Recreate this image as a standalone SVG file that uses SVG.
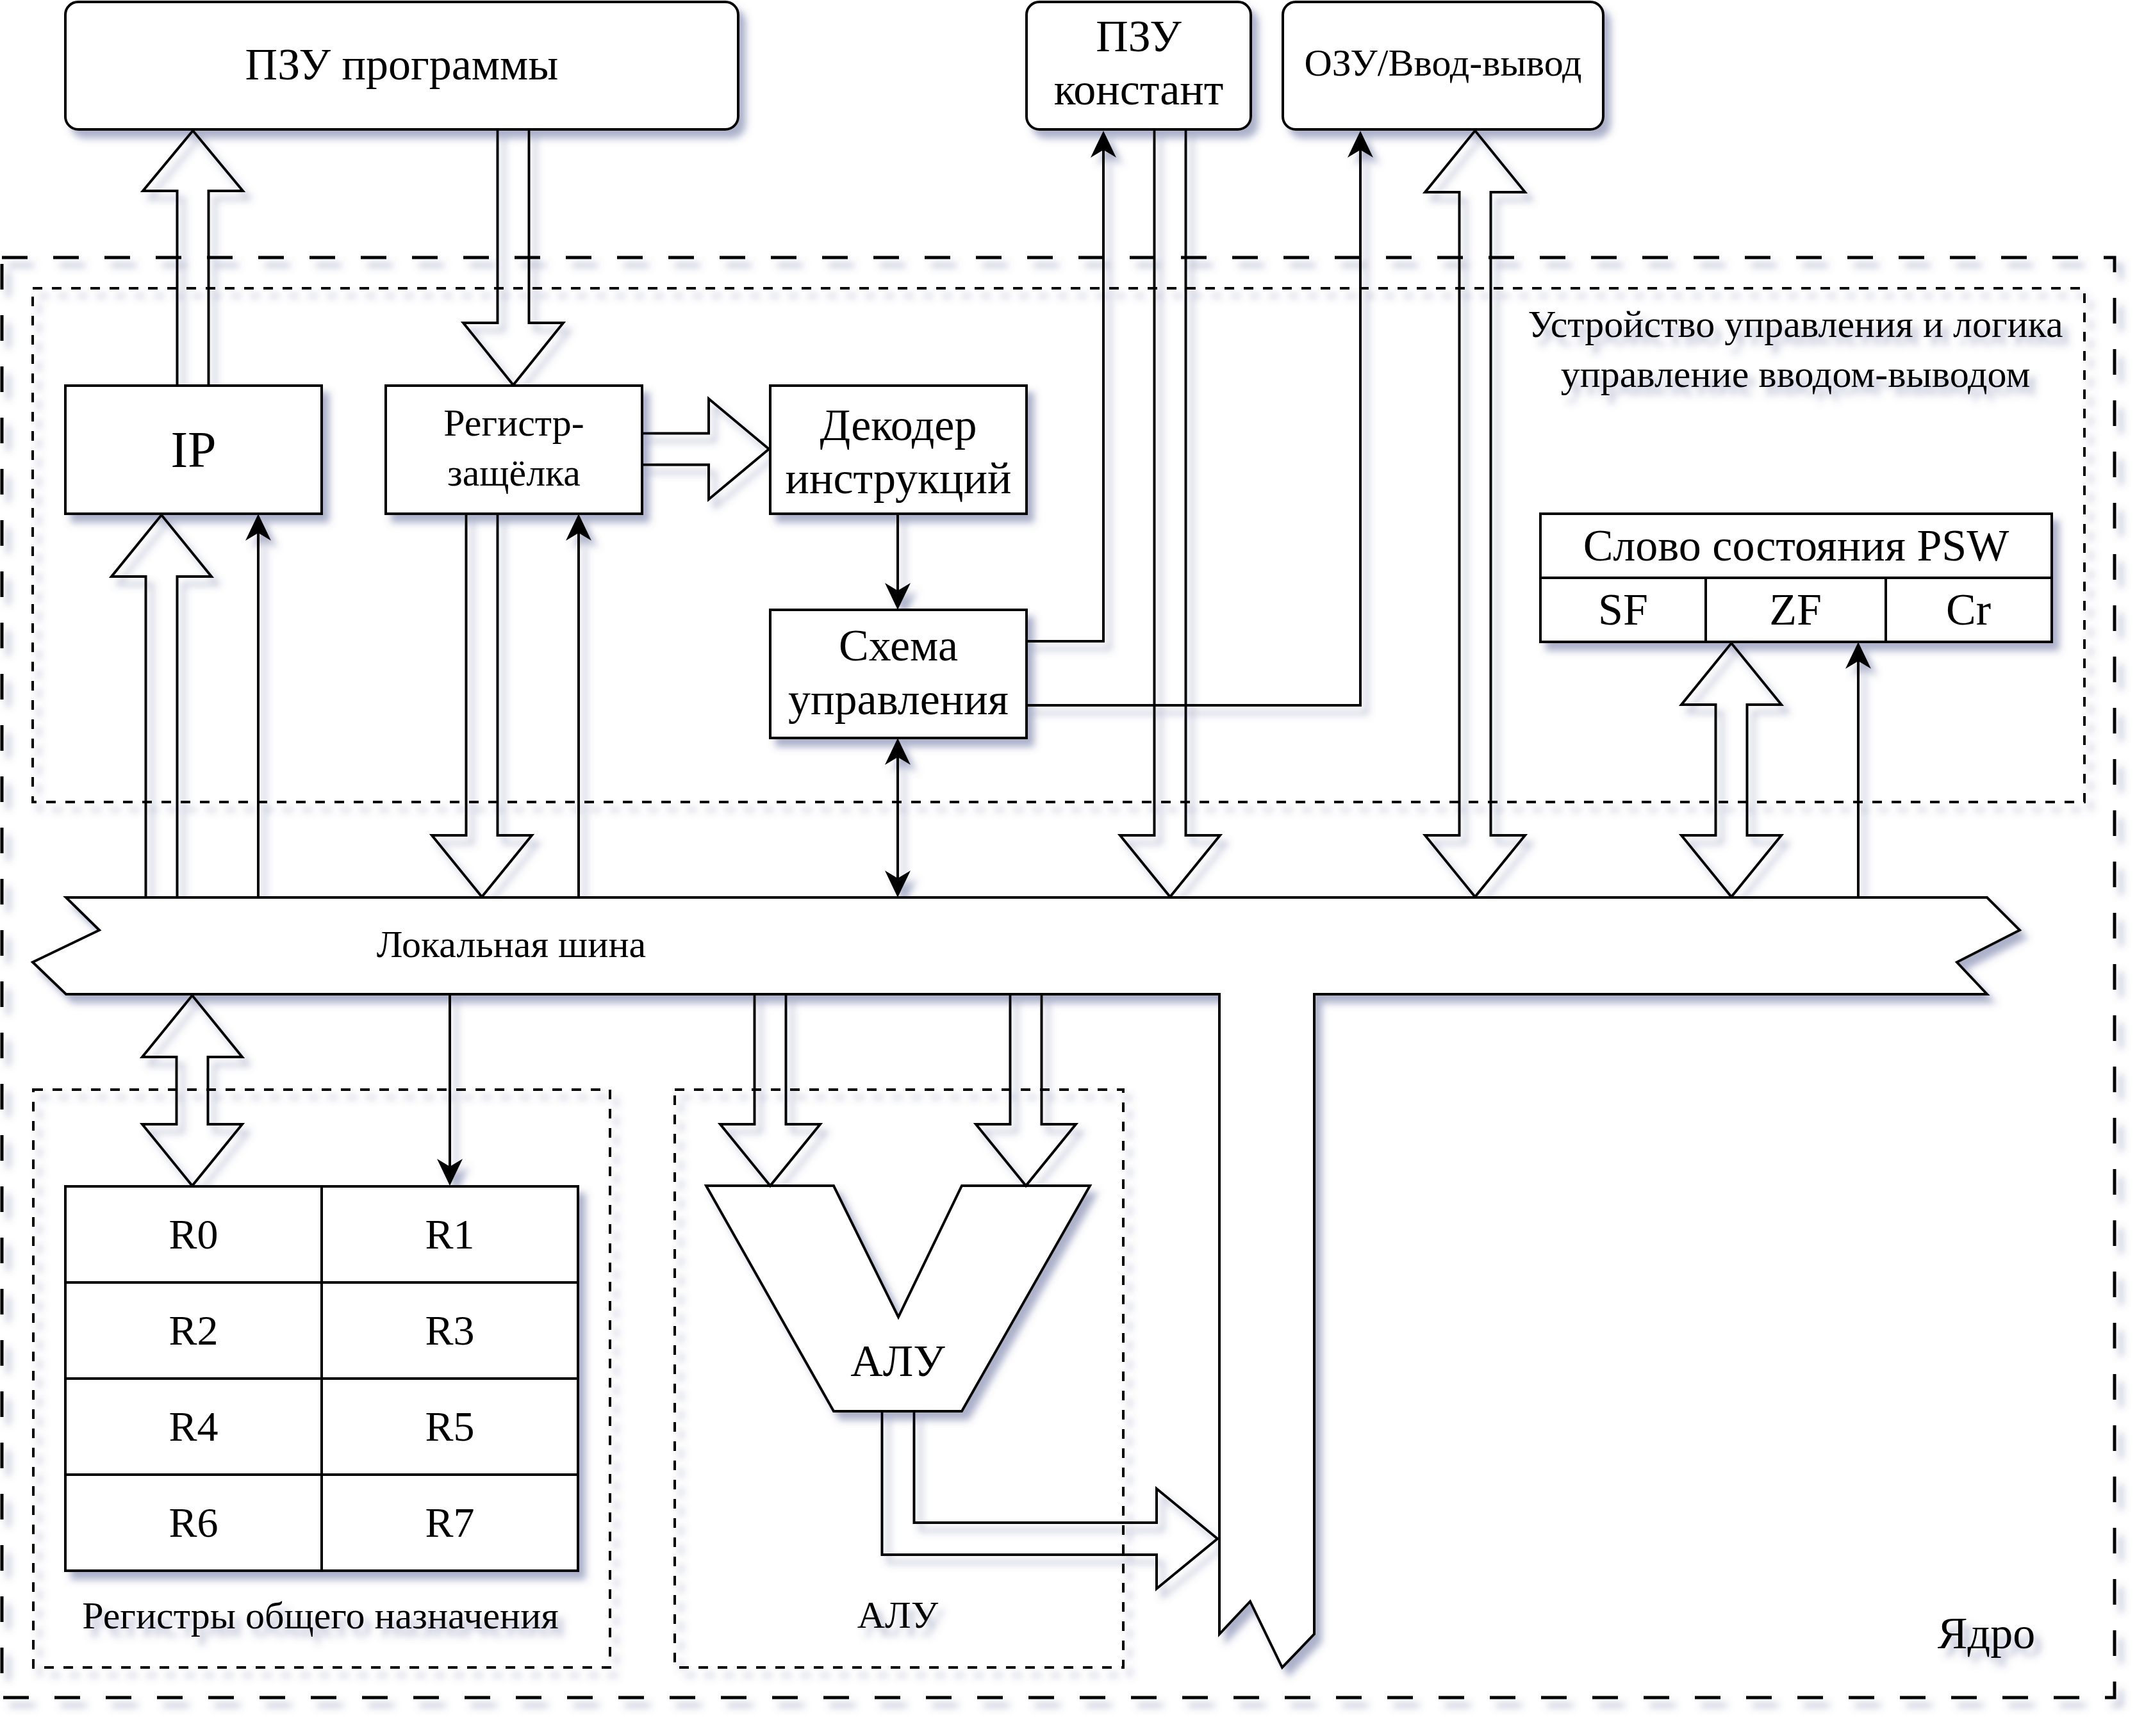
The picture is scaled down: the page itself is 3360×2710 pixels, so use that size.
<svg xmlns="http://www.w3.org/2000/svg" width="3360" height="2710" viewBox="0 0 3360 2710">
<style>
.box{fill:#fff;stroke:#000;stroke-width:4}
.fat{fill:none;stroke:#000;stroke-width:4;stroke-linejoin:miter}
.wire{fill:none;stroke:#000;stroke-width:4}
.outer{fill:none;stroke:#000;stroke-width:5;stroke-dasharray:40 40}
.dot{fill:none;stroke:#000;stroke-width:4;stroke-dasharray:15 15}
.t{font-family:"Liberation Serif","Times New Roman",serif;text-anchor:middle;fill:#000}
.s60{font-size:60px}
.s66{font-size:66px}
.s70{font-size:70px}
.s80{font-size:80px}
</style>
<defs>
<filter id="sh" x="-5%" y="-5%" width="110%" height="110%">
<feDropShadow dx="10" dy="12" stdDeviation="6" flood-color="#5a6494" flood-opacity="0.5"/>
</filter>
<marker id="ah" viewBox="0 -21 44 42" refX="12" refY="0" markerWidth="44" markerHeight="42" markerUnits="userSpaceOnUse" orient="auto-start-reverse">
<path d="M0,-20 L42,0 L0,20 L12,0 Z" fill="#000"/>
</marker>
</defs>
<rect width="3360" height="2710" fill="#fff"/>
<g filter="url(#sh)">
<g id="core">
<rect class="outer" x="3" y="402" width="3297" height="2248"/>
<text class="t s70" x="3100" y="2573">Ядро</text>
</g>
<g id="control-unit">
<rect class="dot" x="51" y="450" width="3202" height="802"/>
<text class="t s60" x="2802" y="526">Устройство управления и логика</text>
<text class="t s60" x="2802" y="604">управление вводом-выводом</text>
</g>
<g id="gpr-group">
<rect class="dot" x="52" y="1701" width="900" height="902"/>
<text class="t s60" x="500" y="2542">Регистры общего назначения</text>
</g>
<g id="alu-group">
<rect class="dot" x="1053" y="1701" width="700" height="902"/>
<text class="t s60" x="1401" y="2541">АЛУ</text>
</g>
<g id="rom-program">
<rect class="box" x="102" y="3" width="1050" height="199" rx="20" ry="20"/>
<text class="t s70" x="627" y="124">ПЗУ программы</text>
</g>
<g id="rom-const">
<rect class="box" x="1602" y="3" width="350" height="199" rx="20" ry="20"/>
<text class="t s70" x="1777" y="80">ПЗУ</text>
<text class="t s70" x="1777" y="163">констант</text>
</g>
<g id="ram-io">
<rect class="box" x="2002" y="3" width="500" height="199" rx="20" ry="20"/>
<text class="t s60" x="2252" y="118">ОЗУ/Ввод-вывод</text>
</g>
<g id="ip">
<rect class="box" x="102" y="602" width="400" height="200"/>
<text class="t s80" x="302" y="729">IP</text>
</g>
<g id="latch">
<rect class="box" x="602" y="602" width="400" height="200"/>
<text class="t s60" x="802" y="680">Регистр-</text>
<text class="t s60" x="802" y="758">защёлка</text>
</g>
<g id="decoder">
<rect class="box" x="1202" y="602" width="400" height="200"/>
<text class="t s70" x="1402" y="687">Декодер</text>
<text class="t s70" x="1402" y="770">инструкций</text>
</g>
<g id="control">
<rect class="box" x="1202" y="952" width="400" height="200"/>
<text class="t s70" x="1402" y="1031">Схема</text>
<text class="t s70" x="1402" y="1115">управления</text>
</g>
<g id="psw">
<rect class="box" x="2404" y="802" width="798" height="200"/>
<path class="wire" d="M2404,902 H3202 M2662,902 V1002 M2943,902 V1002"/>
<text class="t s70" x="2803" y="875">Слово состояния PSW</text>
<text class="t s70" x="2533" y="975">SF</text>
<text class="t s70" x="2802" y="975">ZF</text>
<text class="t s70" x="3072" y="975">Cr</text>
</g>
<g id="registers">
<rect class="box" x="102" y="1852" width="800" height="600"/>
<path class="wire" d="M502,1852 V2452 M102,2002 H902 M102,2152 H902 M102,2302 H902"/>
<text class="t s66" x="302" y="1949">R0</text>
<text class="t s66" x="702" y="1949">R1</text>
<text class="t s66" x="302" y="2099">R2</text>
<text class="t s66" x="702" y="2099">R3</text>
<text class="t s66" x="302" y="2249">R4</text>
<text class="t s66" x="702" y="2249">R5</text>
<text class="t s66" x="302" y="2399">R6</text>
<text class="t s66" x="702" y="2399">R7</text>
</g>
<g id="alu">
<path class="box" d="M1102,1851 H1301 L1402,2056 L1501,1851 H1701 L1501,2203 H1301 Z"/>
<text class="t s70" x="1401" y="2148">АЛУ</text>
</g>
<g id="local-bus">
<path class="box" d="M103,1401 H3101 L3152,1452 L3054,1502 L3101,1552 H2051 V2551 L2001,2603 L1951,2500 L1903,2551 V1552 H103 L51,1502 L155,1452 Z"/>
<text class="t s60" x="798" y="1494">Локальная шина</text>
</g>
<g id="connectors">
<path class="fat" d="M276.5,602 V298 H223 L301,204 L379,298 H325.5 V602 Z"/>
<path class="fat" d="M776.5,202 V504 H723 L801,601 L879,504 H825.5 V202 Z"/>
<path class="fat" d="M1002,676.5 H1106 V622.5 L1200,701 L1106,779.5 V725.5 H1002 Z"/>
<path class="fat" d="M227.5,1401 V900 H174 L252,804 L330,900 H276.5 V1401 Z"/>
<path class="fat" d="M727.5,802 V1304 H674 L752,1400 L830,1304 H776.5 V802 Z"/>
<path class="fat" d="M1801.5,202 V1304 H1748 L1826,1400 L1904,1304 H1850.5 V202 Z"/>
<path class="fat" d="M2277.5,1304 V300 H2224 L2302,204 L2380,300 H2326.5 V1304 H2380 L2302,1400 L2224,1304 Z"/>
<path class="fat" d="M2677.5,1304 V1100 H2624 L2702,1004 L2780,1100 H2726.5 V1304 H2780 L2702,1400 L2624,1304 Z"/>
<path class="fat" d="M275.5,1650 H222 L300,1554 L378,1650 H324.5 V1755 H378 L300,1851 L222,1755 H275.5 Z"/>
<path class="fat" d="M1177.5,1552 V1755 H1124 L1202,1851 L1280,1755 H1226.5 V1552 Z"/>
<path class="fat" d="M1576.5,1552 V1755 H1523 L1601,1851 L1679,1755 H1625.5 V1552 Z"/>
<path class="fat" d="M1376.5,2203 V2427 H1805 V2480 L1900,2402 L1805,2324 V2377 H1426.5 V2203 Z"/>
<path class="wire" marker-end="url(#ah)" d="M403,1401 V832"/>
<path class="wire" marker-end="url(#ah)" d="M903,1401 V832"/>
<path class="wire" marker-end="url(#ah)" d="M1401,802 V922"/>
<path class="wire" marker-start="url(#ah)" marker-end="url(#ah)" d="M1401,1182 V1371"/>
<path class="wire" marker-end="url(#ah)" d="M1602,1001 H1722 V234"/>
<path class="wire" marker-end="url(#ah)" d="M1602,1101 H2123 V234"/>
<path class="wire" marker-end="url(#ah)" d="M2900,1401 V1032"/>
<path class="wire" marker-end="url(#ah)" d="M702,1552 V1821"/>
</g>
</g>
</svg>
